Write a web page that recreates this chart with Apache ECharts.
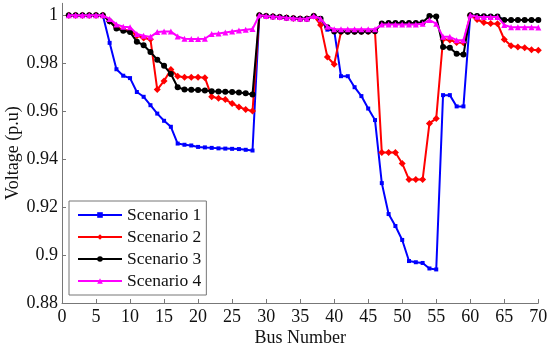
<!DOCTYPE html>
<html>
<head>
<meta charset="utf-8">
<script src="https://cdn.jsdelivr.net/npm/echarts@6/dist/echarts.min.js"></script>
<style>html,body{margin:0;padding:0;background:#fff}#c{width:550px;height:348px}</style>
</head>
<body>
<div id="c"></div>
<script>
var busNumbers = [];
for (var b = 1; b <= 70; b++) busNumbers.push(b);

var seriesNames = ['Scenario 1', 'Scenario 2', 'Scenario 3', 'Scenario 4'];

var scenario1 = [
  1, 1, 1, 1, 1, 1, 0.9885, 0.9775, 0.9748, 0.9738,
  0.968, 0.966, 0.9625, 0.959, 0.956, 0.9535, 0.9465, 0.946, 0.9457, 0.9451,
  0.9449, 0.9447, 0.9445, 0.9444, 0.9443, 0.9442, 0.9439, 0.9436, 1.0, 0.9997,
  0.9995, 0.9993, 0.999, 0.9988, 0.9986, 0.9986, 0.9997, 0.9986, 0.994, 0.9937,
  0.9746, 0.9746, 0.97, 0.9663, 0.9611, 0.9563, 0.93, 0.9171, 0.9121, 0.9063,
  0.8975, 0.897, 0.8967, 0.8944, 0.894, 0.9667, 0.9667, 0.962, 0.962, 1.0,
  0.9997, 0.9996, 0.9995, 0.9995, 0.998, 0.998, 0.998, 0.998, 0.998, 0.998
];
var scenario2 = [
  1, 1, 1, 1, 1, 1, 0.9975, 0.995, 0.994, 0.9935,
  0.9915, 0.9905, 0.99, 0.969, 0.9726, 0.9774, 0.9746, 0.9742, 0.9742, 0.9742,
  0.974, 0.966, 0.9654, 0.9649, 0.9632, 0.9618, 0.9607, 0.9601, 1.0, 0.9997,
  0.9995, 0.9993, 0.999, 0.9988, 0.9986, 0.9986, 0.9997, 0.996, 0.9826, 0.9796,
  0.993, 0.9932, 0.9932, 0.9932, 0.9932, 0.9932, 0.9428, 0.9428, 0.9428, 0.9382,
  0.9315, 0.9315, 0.9315, 0.9549, 0.957, 0.99, 0.9897, 0.9887, 0.9885, 1.0,
  0.9982, 0.997, 0.9966, 0.9965, 0.9899, 0.9873, 0.9868, 0.9865, 0.9856, 0.9854
];
var scenario3 = [
  1, 1, 1, 1, 1, 1, 0.9975, 0.9945, 0.9935, 0.993,
  0.989, 0.9875, 0.9847, 0.9815, 0.979, 0.9755, 0.97, 0.969, 0.9689, 0.9688,
  0.9686, 0.9683, 0.9682, 0.9681, 0.968, 0.9678, 0.9675, 0.967, 1.0, 0.9997,
  0.9995, 0.9993, 0.999, 0.9988, 0.9986, 0.9986, 0.9997, 0.9986, 0.995, 0.9932,
  0.9932, 0.9931, 0.9931, 0.9931, 0.9932, 0.9933, 0.9966, 0.9968, 0.9968, 0.9968,
  0.9968, 0.9968, 0.997, 0.9997, 0.9995, 0.9868, 0.9865, 0.984, 0.9836, 1.0,
  0.9997, 0.9996, 0.9995, 0.9995, 0.998, 0.998, 0.998, 0.998, 0.998, 0.998
];
var scenario4 = [
  1, 1, 1, 1, 1, 1, 0.9985, 0.9962, 0.9952, 0.995,
  0.9922, 0.9915, 0.991, 0.993, 0.9932, 0.9932, 0.9912, 0.9902, 0.9901, 0.9901,
  0.9902, 0.9922, 0.9924, 0.9928, 0.9932, 0.9937, 0.994, 0.9943, 1.0, 0.9997,
  0.9995, 0.9993, 0.999, 0.9988, 0.9986, 0.9986, 0.9997, 0.9986, 0.9952, 0.9942,
  0.9942, 0.9942, 0.9942, 0.9942, 0.9942, 0.9942, 0.9962, 0.9962, 0.9962, 0.9962,
  0.9962, 0.9962, 0.9965, 0.998, 0.9965, 0.991, 0.991, 0.9896, 0.9896, 1.0,
  0.9994, 0.9993, 0.9993, 0.9993, 0.996, 0.995, 0.995, 0.995, 0.995, 0.9949
];

var xTicks = [0, 5, 10, 15, 20, 25, 30, 35, 40, 45, 50, 55, 60, 65, 70];
var yTicks = [0.88, 0.9, 0.92, 0.94, 0.96, 0.98, 1];

var allValues = [scenario1, scenario2, scenario3, scenario4];
var colors = ['#0000ff', '#ff0000', '#000000', '#ff00ff'];
var symbols = ['rect', 'diamond', 'circle', 'triangle'];
var symbolSizes = [4, 7, 6, 6];

var font = 'Liberation Serif';
var txt = '#111';

var series = seriesNames.map(function (name, i) {
  return {
    name: name,
    type: 'line',
    data: busNumbers.map(function (bn, j) { return [bn, allValues[i][j]]; }),
    symbol: symbols[i],
    symbolSize: symbolSizes[i],
    showSymbol: true,
    showAllSymbol: true,
    lineStyle: { color: colors[i], width: 2 },
    itemStyle: { color: colors[i] },
    emphasis: { disabled: true },
    z: 2 + i
  };
});

var chart = echarts.init(document.getElementById('c'), null, { renderer: 'canvas' });
chart.setOption({
  animation: false,
  backgroundColor: '#ffffff',
  grid: { left: 62, right: 11.7, top: 3.3, bottom: 45, containLabel: false, outerBoundsMode: 'none' },
  legend: {
    orient: 'vertical',
    left: 69,
    top: 201,
    data: seriesNames,
    itemWidth: 44,
    itemHeight: 7,
    itemGap: 4,
    padding: [5, 5, 5, 8],
    backgroundColor: '#ffffff',
    borderColor: '#777',
    borderWidth: 1,
    textStyle: { fontFamily: font, fontSize: 17.5, color: txt, lineHeight: 18 }
  },
  xAxis: {
    type: 'value',
    min: xTicks[0],
    max: xTicks[xTicks.length - 1],
    interval: 5,
    name: 'Bus Number',
    nameLocation: 'middle',
    nameGap: 26,
    nameMoveOverlap: false,
    nameTextStyle: { fontFamily: font, fontSize: 18, color: txt },
    axisLine: { show: true, lineStyle: { color: '#777', width: 1 } },
    axisTick: { show: true, inside: true, length: 4, lineStyle: { color: '#777' } },
    axisLabel: { fontFamily: font, fontSize: 18, color: txt, margin: 5 },
    splitLine: { show: false }
  },
  yAxis: {
    type: 'value',
    min: yTicks[0],
    max: 1.005,
    interval: 0.02,
    name: 'Voltage (p.u)',
    nameLocation: 'middle',
    nameGap: 40,
    nameMoveOverlap: false,
    nameTextStyle: { fontFamily: font, fontSize: 18, color: txt },
    axisLine: { show: true, lineStyle: { color: '#777', width: 1 } },
    axisTick: { show: true, inside: true, length: 4, lineStyle: { color: '#777' } },
    axisLabel: {
      fontFamily: font, fontSize: 18, color: txt, margin: 4,
      showMaxLabel: false,
      formatter: function (v) {
        for (var k = 0; k < yTicks.length; k++) {
          if (Math.abs(yTicks[k] - v) < 1e-9) return String(yTicks[k]);
        }
        return '';
      }
    },
    splitLine: { show: false }
  },
  series: series
});
</script>
</body>
</html>
